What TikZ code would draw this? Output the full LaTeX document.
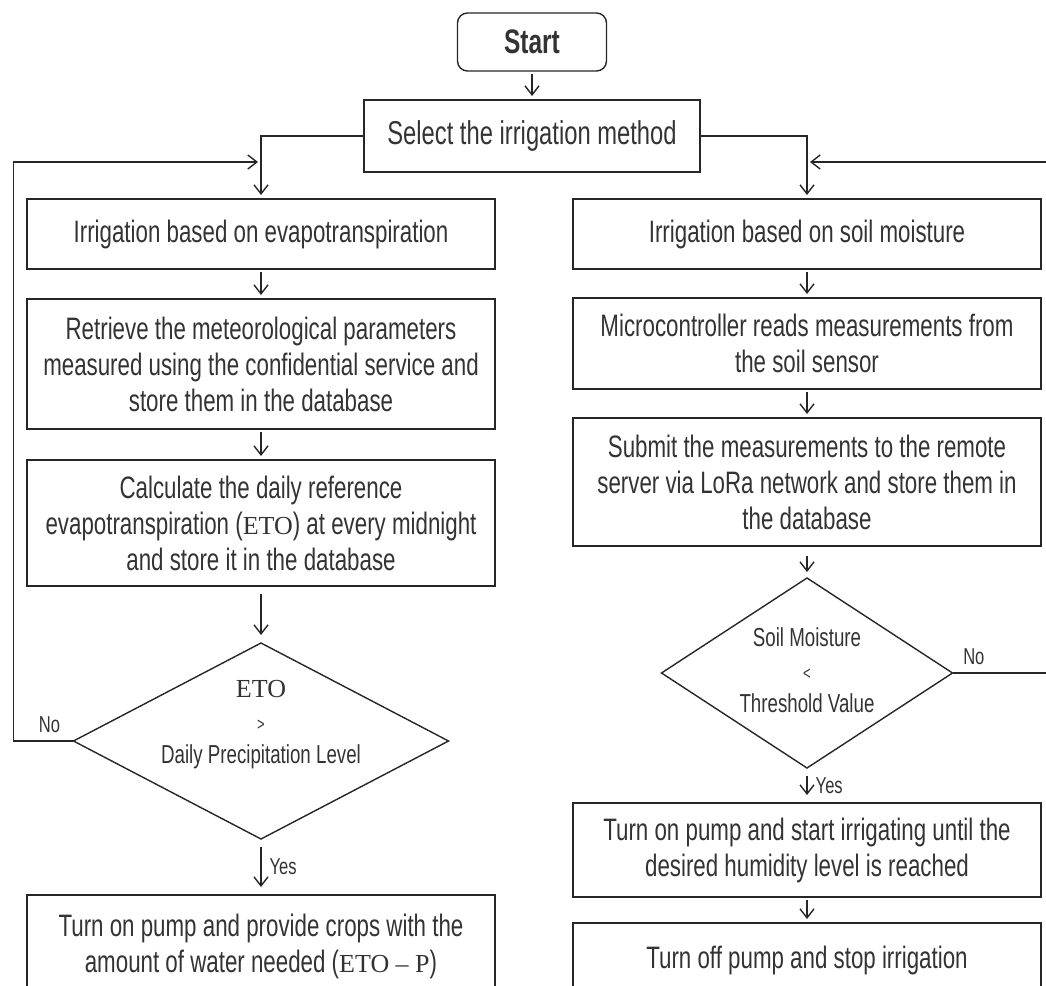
\documentclass[tikz,border=0pt]{standalone}
\usepackage{fontspec}
\setmainfont{Liberation Sans}[FakeStretch=0.72]
\newfontfamily\etofont{Liberation Serif}[Ligatures=TeX]
\usetikzlibrary{positioning, arrows.meta, shapes.geometric}

% serif pieces of the formulas
\newcommand{\serifsym}[1]{{\etofont\fontsize{26}{30}\selectfont #1}}
% text set inside a decision diamond, not counted in its size
\newcommand{\dtxt}[2][0pt]{\raisebox{#1}[0pt][0pt]{\makebox[0pt]{\begin{tabular}{@{}c@{}}#2\end{tabular}}}}

\begin{document}
\begin{tikzpicture}[
  x=1pt, y=-1pt,
  line width=1.4pt,
  >={Straight Barb[length=9pt, width=14pt]},
  font={\fontsize{31}{36}\selectfont},
  every node/.style={text=black!80},
  procbox/.style={
    draw=black!85, outer sep=0pt, inner sep=4pt,
    minimum width=468pt, align=center
  },
  startbox/.style={
    draw=black!85, rounded corners=10pt, outer sep=0pt,
    minimum width=149pt, minimum height=58pt,
    font={\fontsize{34}{40}\selectfont\bfseries}
  },
  decision/.style={
    diamond, draw=black!85, outer sep=0pt, inner sep=0pt,
    font={\fontsize{26}{33}\selectfont}
  },
  flow/.style={->, draw=black!85, shorten <=3pt, shorten >=4pt},
  flowlong/.style={->, draw=black!85, shorten <=8pt, shorten >=8pt},
  back/.style={->, draw=black!85, shorten >=3pt},
  lbl/.style={font={\fontsize{23}{26}\selectfont}, inner sep=8pt}
]
\useasboundingbox (0,0) rectangle (1046,985);
\clip (0,0) rectangle (1046,985);

% Top: start and choice of method
\node[startbox] (start) at (532,42) {Start};
\node[procbox, minimum width=336pt, minimum height=72pt,
      font={\fontsize{33}{38}\selectfont}, below=29pt of start] (select) {Select the irrigation method};

% Left column: evapotranspiration
\node[procbox, minimum height=70pt] (L1) at (261,234) {Irrigation based on evapotranspiration};
\node[procbox, minimum height=130pt, below=30pt of L1] (L2) {Retrieve the meteorological parameters\\ measured using the confidential service and\\ store them in the database};
\node[procbox, minimum height=126pt, below=31pt of L2] (L3) {Calculate the daily reference\\ evapotranspiration (\serifsym{ETO}) at every midnight\\ and store it in the database};
\node[decision, minimum width=375pt, minimum height=196pt, below=57pt of L3] (dL) {\dtxt[11pt]{\serifsym{ETO}\\ {\fontsize{18}{20}\selectfont >}\\ Daily Precipitation Level}};
\node[procbox, minimum height=103pt, below=56pt of dL] (L4) {Turn on pump and provide crops with the\\ amount of water needed (\serifsym{ETO -- P})};

% Right column: soil moisture
\node[procbox, minimum height=70pt] (R1) at (807,234) {Irrigation based on soil moisture};
\node[procbox, minimum height=91pt, below=29pt of R1] (R2) {Microcontroller reads measurements from\\ the soil sensor};
\node[procbox, minimum height=128pt, below=29pt of R2] (R3) {Submit the measurements to the remote\\ server via LoRa network and store them in\\ the database};
\node[decision, minimum width=291pt, minimum height=190pt, below=32pt of R3] (dR) {\dtxt[-6pt]{Soil Moisture\\ {\fontsize{18}{20}\selectfont <}\\ Threshold Value}};
\node[procbox, minimum height=94pt, below=35pt of dR] (R4) {Turn on pump and start irrigating until the\\ desired humidity level is reached};
\node[procbox, minimum height=74pt, below=26pt of R4] (R5) {Turn off pump and stop irrigation};

% Return points of the loops
\coordinate (jL) at (261,162);
\coordinate (jR) at (807,162);

% Arrows
\draw[flow] (start) -- (select);
\draw[flow, shorten <=0pt] (select.west) -| (L1.north);
\draw[flow, shorten <=0pt] (select.east) -| (R1.north);

\draw[flow] (L1) -- (L2);
\draw[flow] (L2) -- (L3);
\draw[flowlong] (L3) -- (dL);
\draw[flowlong] (dL) -- node[lbl, right] {Yes} (L4);
\draw[back] (dL.west) -- ++(-60,0) node[lbl, above, pos=0.4] {No} |- (jL);

\draw[flow] (R1) -- (R2);
\draw[flow] (R2) -- (R3);
\draw[flow, shorten <=10pt, shorten >=6pt] (R3) -- (dR);
\draw[flowlong] (dR) -- node[lbl, right] {Yes} (R4);
\draw[flow] (R4) -- (R5);
\draw[back] (dR.east) -- ++(97,0) node[lbl, above, pos=0.22] {No} |- (jR);

\end{tikzpicture}
\end{document}
